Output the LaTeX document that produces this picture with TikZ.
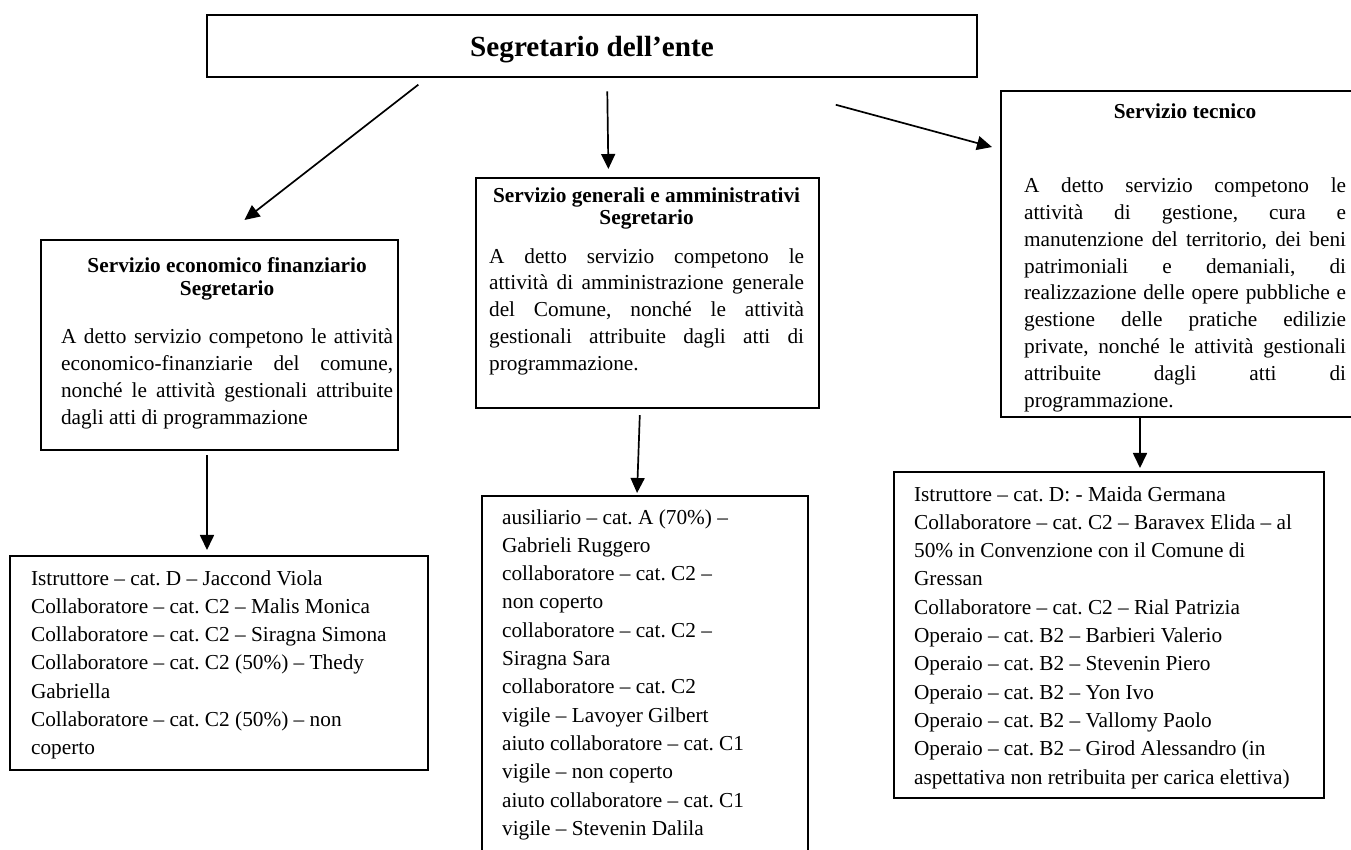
\documentclass[tikz,border=0pt]{standalone}
\usepackage{fontspec}
\setmainfont{Liberation Serif}
\usetikzlibrary{arrows.meta}
\frenchspacing

\newcommand{\bodyfont}{\fontsize{10.65}{13.4}\selectfont\pretolerance=10000 \tolerance=10000 }
\newcommand{\listfont}{\fontsize{10.65}{14.15}\selectfont\pretolerance=10000 \tolerance=10000 }
\newcommand{\svctitle}[2]{{\bfseries\fontsize{10.65}{#1}\selectfont
  \advance\leftskip 0pt plus 1fil\advance\rightskip 0pt plus 1fil
  \parfillskip=0pt #2\par}}

\tikzset{
  topbox/.style={draw, line width=1.4pt, inner sep=0pt, text depth=0pt,
    font=\bfseries\fontsize{14.6}{17}\selectfont},
  svcbox/.style={draw, line width=1.1pt, anchor=north west, inner sep=0pt,
    align=justify, font=\bodyfont},
  listbox/.style={draw, line width=1.1pt, anchor=north west, inner sep=0pt,
    align=justify, font=\listfont},
  pad/.style 2 args={execute at begin node={\leftskip=#1\rightskip=#2\relax}},
  arr/.style={line width=0.85pt, -{Triangle[length=7.5pt,width=7pt]}}
}

\begin{document}
\begin{tikzpicture}[x=0.5pt, y=-0.5pt]
  \path[use as bounding box, fill=white] (0,0) rectangle (1351,850);

  % Segretario
  \node[topbox, minimum width=385pt, minimum height=31pt] (ente) at (592,46) {Segretario dell'ente};

  % Servizi
  \node[svcbox, pad={10pt}{2.5pt}, text width=178.5pt, text height=16pt, text depth=89pt] (econ) at (40,239)
    {\svctitle{11.5pt}{Servizio economico finanziario\par Segretario}\vspace{11pt}
     A detto servizio competono le attività\linebreak economico-finanziarie del comune,\linebreak
     nonché le attività gestionali attribuite\linebreak dagli atti di programmazione};
  \node[svcbox, pad={6.5pt}{7.5pt}, text width=171.5pt, text height=12pt, text depth=103pt] (gen) at (475,177)
    {\svctitle{11pt}{Servizio generali e amministrativi\par Segretario}\vspace{6.1pt}
     A detto servizio competono le\linebreak attività di amministrazione generale\linebreak
     del Comune, nonché le attività\linebreak gestionali attribuite dagli atti di\linebreak programmazione.};
  \node[svcbox, pad={11.5pt}{10pt}, text width=182.5pt, text height=13.5pt, text depth=149.5pt] (tec) at (1000,90)
    {\svctitle{12pt}{Servizio tecnico}\vspace{23.9pt}
     A detto servizio competono le\linebreak attività di gestione, cura e\linebreak
     manutenzione del territorio, dei beni\linebreak patrimoniali e demaniali, di\linebreak
     realizzazione delle opere pubbliche e\linebreak gestione delle pratiche edilizie\linebreak
     private, nonché le attività gestionali\linebreak attribuite dagli atti di\linebreak programmazione.};

  % Personale
  \node[listbox, pad={10.5pt}{0pt}, text width=209pt, text height=14.5pt, text depth=92.5pt] (econlist) at (9,555)
    {Istruttore – cat. D – Jaccond Viola\\
     Collaboratore – cat. C2 – Malis Monica\\
     Collaboratore – cat. C2 – Siragna Simona\\
     Collaboratore – cat. C2 (50\%) – Thedy\\
     Gabriella\\
     Collaboratore – cat. C2 (50\%) – non\\
     coperto};
  \node[listbox, pad={10pt}{0pt}, text width=163pt, text height=14pt, text depth=171pt] (genlist) at (481,495)
    {ausiliario – cat. A (70\%) –\\
     Gabrieli Ruggero\\
     collaboratore – cat. C2 –\\
     non coperto\\
     collaboratore – cat. C2 –\\
     Siragna Sara\\
     collaboratore – cat. C2\\
     vigile – Lavoyer Gilbert\\
     aiuto collaboratore – cat. C1\\
     vigile – non coperto\\
     aiuto collaboratore – cat. C1\\
     vigile – Stevenin Dalila};
  \node[listbox, pad={10pt}{0pt}, text width=215pt, text height=14.5pt, text depth=148.5pt] (teclist) at (893,471)
    {Istruttore – cat. D: - Maida Germana\\
     Collaboratore – cat. C2 – Baravex Elida – al\\
     50\% in Convenzione con il Comune di\\
     Gressan\\
     Collaboratore – cat. C2 – Rial Patrizia\\
     Operaio – cat. B2 – Barbieri Valerio\\
     Operaio – cat. B2 – Stevenin Piero\\
     Operaio – cat. B2 – Yon Ivo\\
     Operaio – cat. B2 – Vallomy Paolo\\
     Operaio – cat. B2 – Girod Alessandro (in\\
     aspettativa non retribuita per carica elettiva)};

  % Frecce
  \draw[arr, shorten <=5.1pt, shorten >=15.5pt] ([xshift=110.4pt]ente.south west) -- ([xshift=90pt]econ.north west);
  \draw[arr, shorten <=6.5pt, shorten >=4pt] ([xshift=200.75pt]ente.south west) -- ([xshift=66.75pt]gen.north west);
  \draw[arr, shorten <=50.5pt, shorten >=4.15pt] ([xshift=266.35pt]ente.south west) -- ([yshift=-29.6pt]tec.north west);
  \draw[arr, shorten <=2pt, shorten >=2.5pt] ([xshift=83.5pt]econ.south west) -- ([xshift=99pt]econlist.north west);
  \draw[arr, shorten <=3pt, shorten >=1pt] ([xshift=82.5pt]gen.south west) -- ([xshift=78pt]genlist.north west);
  \draw[arr, shorten >=1.5pt] ([xshift=70pt]tec.south west) -- ([xshift=123.5pt]teclist.north west);
\end{tikzpicture}
\end{document}
